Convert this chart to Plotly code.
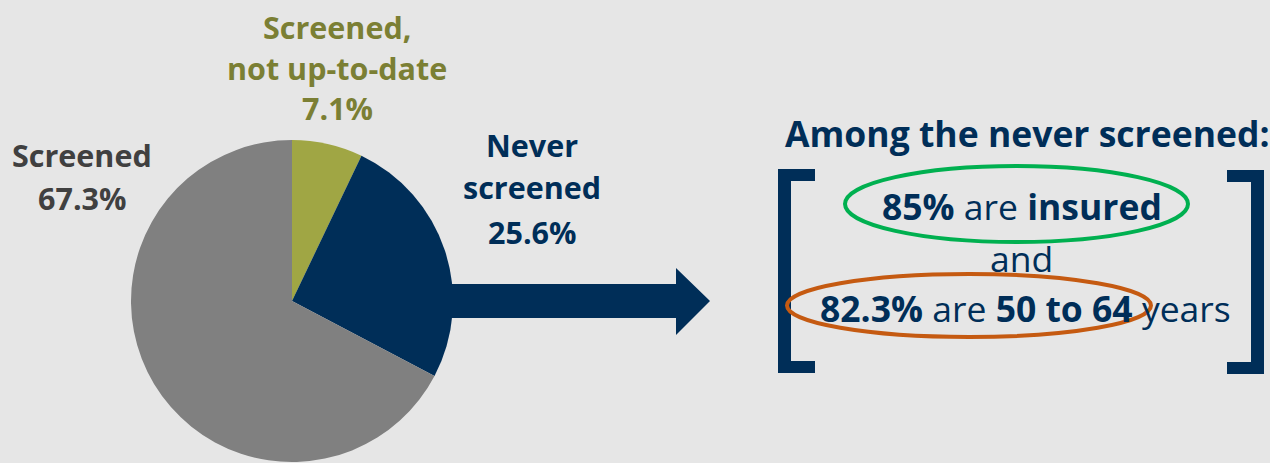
import plotly.graph_objects as go

# ---- data ----
labels = ["Screened, not up-to-date", "Never screened", "Screened"]
values = [7.1, 25.6, 67.3]
slice_colors = ["#A0A644", "#002E58", "#808080"]
never_insured_pct = 85
never_age_pct = 82.3

W, H = 1270, 463
BG = "#E6E6E6"
NAVY = "#002E58"
FONT = "Open Sans"

def px(x):
    return x / W

def py(y):
    return 1 - y / H

fig = go.Figure()
fig.add_trace(go.Pie(
    labels=labels, values=values, sort=False, direction="clockwise", rotation=0,
    marker=dict(colors=slice_colors, line=dict(width=0)),
    textinfo="none", hoverinfo="label+percent", showlegend=False,
    domain=dict(x=[px(131), px(453)], y=[py(462), py(140)]),
))

ann = []
def text(x, y, s, size, color, bold=False):
    if bold:
        s = "<b>" + s + "</b>"
    ann.append(dict(x=px(x), y=py(y), xref="paper", yref="paper", text=s, showarrow=False,
                    xanchor="center", yanchor="middle",
                    font=dict(family=FONT, size=size, color=color)))

LS = 30.5
RS = 35.5
# slice labels
text(337, 27, "Screened,", LS, "#7B7F34", True)
text(337, 68, "not up-to-date", LS, "#7B7F34", True)
text(337, 108, f"{values[0]}%", LS, "#7B7F34", True)
text(532, 145, "Never", LS, NAVY, True)
text(532, 187, "screened", LS, NAVY, True)
text(532, 232, f"{values[1]}%", LS, NAVY, True)
text(82, 155, "Screened", LS, "#404040", True)
text(82, 198, f"{values[2]}%", LS, "#404040", True)

# right panel
text(1027, 133, "Among the never screened:", RS, NAVY, True)
text(1022, 206, f"<b>{never_insured_pct}%</b> are <b>insured</b>", RS, NAVY)
text(1022, 258, "and", RS, NAVY)
text(1025, 308, f"<b>{never_age_pct}%</b> are <b>50 to 64</b> years", RS, NAVY)

shapes = []
def path(pts, color):
    d = "M " + " L ".join(f"{px(x)},{py(y)}" for x, y in pts) + " Z"
    shapes.append(dict(type="path", path=d, xref="paper", yref="paper",
                       fillcolor=color, line=dict(width=0)))

# arrow
path([(440, 284), (676, 284), (676, 268), (710, 301), (676, 335), (676, 318), (440, 318)], NAVY)
# left bracket
path([(778, 169), (815, 169), (815, 181), (791, 181), (791, 361), (815, 361), (815, 373), (778, 373)], NAVY)
# right bracket
path([(1227, 170), (1264, 170), (1264, 374), (1227, 374), (1227, 362), (1251, 362), (1251, 182), (1227, 182)], NAVY)

# ellipses
shapes.append(dict(type="circle", xref="paper", yref="paper",
                   x0=px(845), x1=px(1188), y0=py(166), y1=py(242),
                   line=dict(color="#00B050", width=4)))
shapes.append(dict(type="circle", xref="paper", yref="paper",
                   x0=px(787), x1=px(1151), y0=py(274), y1=py(337),
                   line=dict(color="#C55A11", width=4)))

fig.update_layout(width=W, height=H, margin=dict(l=0, r=0, t=0, b=0),
                  paper_bgcolor=BG, plot_bgcolor=BG,
                  annotations=ann, shapes=shapes)
fig.write_html("out.html", config={"displayModeBar": False},
               post_script="document.body.style.margin='0';document.body.style.background='#E6E6E6';")
